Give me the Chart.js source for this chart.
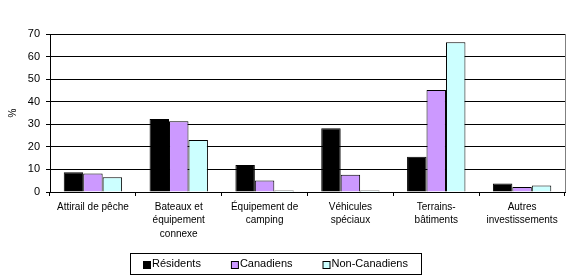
<!DOCTYPE html>
<html>
<head>
<meta charset="utf-8">
<script src="https://cdn.jsdelivr.net/npm/chart.js@4/dist/chart.umd.min.js"></script>
<style>
  html, body { margin: 0; padding: 0; background: #fff; }
  #wrap { width: 571px; height: 278px; }
</style>
</head>
<body>
<div id="wrap"><canvas id="myChart" width="571" height="278"></canvas></div>
<script>
const categories = [
  "Attirail de pêche",
  ["Bateaux et", "équipement", "connexe"],
  ["Équipement de", "camping"],
  ["Véhicules", "spéciaux"],
  ["Terrains-", "bâtiments"],
  ["Autres", "investissements"],
];
const residents = [8.7, 32.3, 12, 28.2, 15.6, 3.8];
const canadiens = [8.2, 31.3, 5.1, 7.6, 45.2, 2.2];
const nonCanadiens = [6.5, 23, 0.7, 0.7, 66.3, 2.9];
const yTicks = [0, 10, 20, 30, 40, 50, 60, 70];

const font = "'Liberation Sans', Arial, sans-serif";

// grey right edge of the plot + boxed legend under the axis
const frame = {
  id: "frame",
  afterDraw(chart) {
    const c = chart.ctx;
    const a = chart.chartArea;
    c.save();
    c.strokeStyle = "#808080";
    c.lineWidth = 1;
    c.beginPath();
    c.moveTo(Math.round(a.right) + 0.5, a.top);
    c.lineTo(Math.round(a.right) + 0.5, a.bottom);
    c.stroke();

    // legend
    const box = { x: 130, y: 253, w: 291, h: 21 };
    c.strokeStyle = "#000";
    c.strokeRect(box.x + 0.5, box.y + 0.5, box.w, box.h);
    c.font = "11px " + font;
    c.textBaseline = "middle";
    const sq = 7, gapTxt = 2, gapItem = 30;
    const items = chart.data.datasets.map((d) => ({
      label: d.label,
      color: d.backgroundColor,
      w: sq + gapTxt + c.measureText(d.label).width,
    }));
    const total = items.reduce((s, it) => s + it.w, 0) + gapItem * (items.length - 1);
    let x = Math.round(box.x + (box.w - total) / 2);
    const cy = box.y + box.h / 2 + 0.5;
    items.forEach((it) => {
      c.fillStyle = it.color;
      c.fillRect(x + 0.5, Math.round(cy - sq / 2) + 0.5, sq, sq);
      c.strokeRect(x + 0.5, Math.round(cy - sq / 2) + 0.5, sq, sq);
      c.fillStyle = "#000";
      c.fillText(it.label, x + sq + gapTxt, cy);
      x += it.w + gapItem;
    });
    c.restore();
  },
};

const ctx = document.getElementById("myChart");

new Chart(ctx, {
  type: "bar",
  data: {
    labels: categories,
    datasets: [
      {
        label: "Résidents",
        data: residents,
        backgroundColor: "#000000",
        borderColor: "#000000",
        borderWidth: 1,
      },
      {
        label: "Canadiens",
        data: canadiens,
        backgroundColor: "#CC99FF",
        borderColor: "#000000",
        borderWidth: 1,
      },
      {
        label: "Non-Canadiens",
        data: nonCanadiens,
        backgroundColor: "#CCFFFF",
        borderColor: "#000000",
        borderWidth: 1,
      },
    ],
  },
  options: {
    responsive: false,
    animation: false,
    events: [],
    layout: {
      padding: { top: 34, right: 6, left: 0, bottom: 34 },
    },
    datasets: {
      bar: { categoryPercentage: 0.68, barPercentage: 1.0 },
    },
    scales: {
      x: {
        grid: {
          display: true,
          drawOnChartArea: false,
          offset: true,
          tickLength: 4,
          color: "#000",
        },
        border: { color: "#000" },
        ticks: {
          color: "#000",
          font: { family: font, size: 10, lineHeight: 1.35 },
          maxRotation: 0,
          autoSkip: false,
          padding: 4,
        },
        afterFit(scale) {
          scale.height = 52;
        },
      },
      y: {
        min: 0,
        max: 70,
        afterBuildTicks(scale) {
          scale.ticks = yTicks.map((v) => ({ value: v }));
        },
        grid: {
          color: "#000",
          tickLength: 4,
        },
        border: { color: "#000" },
        ticks: {
          color: "#000",
          font: { family: font, size: 11 },
          padding: 6,
        },
        title: {
          display: true,
          text: "%",
          color: "#000",
          font: { family: font, size: 10 },
          padding: { top: 7, bottom: 0 },
        },
        afterFit(scale) {
          scale.width = 50;
        },
      },
    },
    plugins: {
      legend: { display: false },
      tooltip: { enabled: false },
    },
  },
  plugins: [frame],
});
</script>
</body>
</html>
